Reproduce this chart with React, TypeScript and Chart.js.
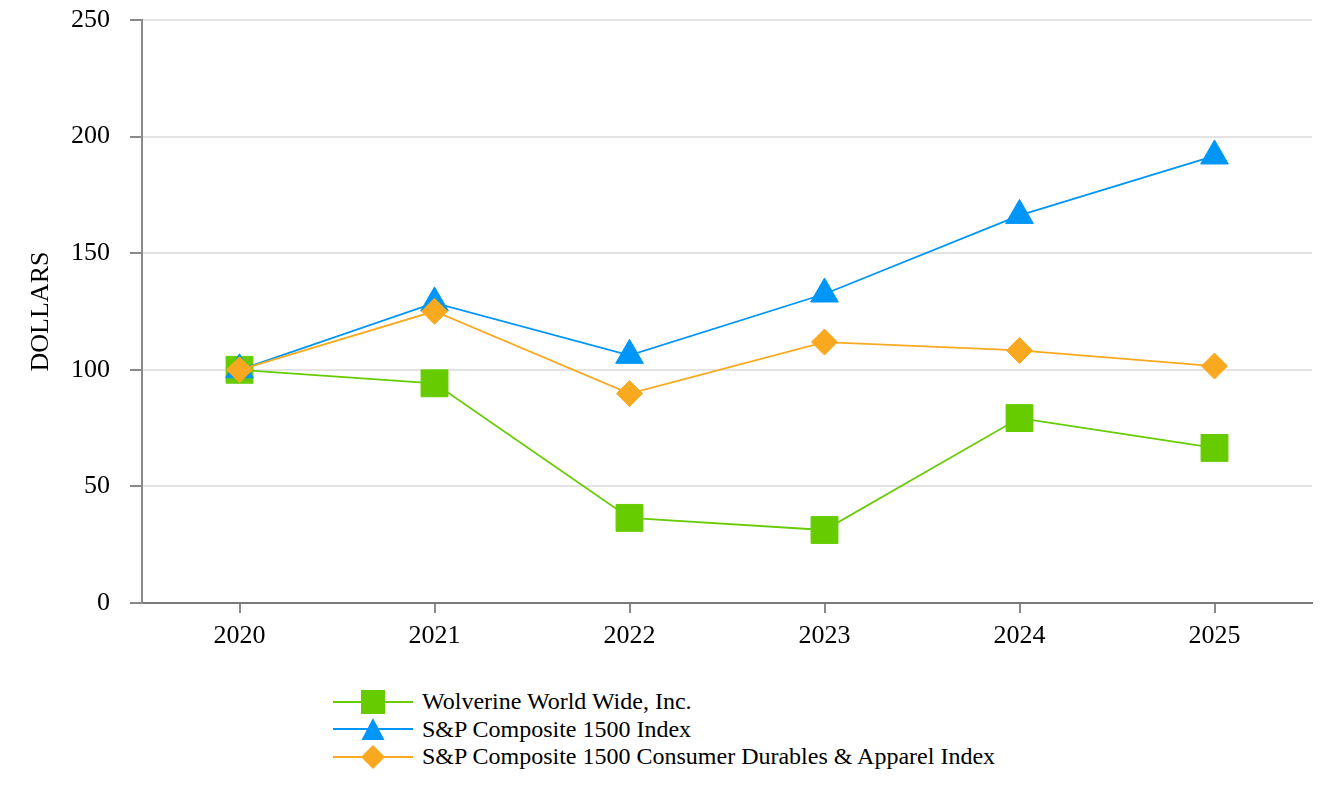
import React, { useEffect, useRef } from "react";
import { Chart, registerables } from "chart.js";

Chart.register(...registerables);

const years = ["2020", "2021", "2022", "2023", "2024", "2025"];
const wolverine = [100, 94.2, 36.5, 31.3, 79.3, 66.5];
const sp1500 = [100, 128.7, 106.2, 132.5, 166.2, 191.7];
const durables = [100, 125.1, 89.8, 111.9, 108.3, 101.6];
const seriesNames = [
  "Wolverine World Wide, Inc.",
  "S&P Composite 1500 Index",
  "S&P Composite 1500 Consumer Durables & Apparel Index",
];
const yTicks = [0, 50, 100, 150, 200, 250];

const GREEN = "#66cc00";
const BLUE = "#0096f8";
const ORANGE = "#f9a91f";
const FONT = "'Liberation Serif', 'Times New Roman', serif";

function LegendMarker({ kind, color }: { kind: string; color: string }) {
  return (
    <svg width={80} height={28} style={{ display: "block" }}>
      <line x1={0} y1={14} x2={80} y2={14} stroke={color} strokeWidth={2} />
      {kind === "square" && <rect x={28} y={2} width={24} height={24} fill={color} />}
      {kind === "triangle" && <polygon points="40,3 28.5,25 51.5,25" fill={color} />}
      {kind === "diamond" && <polygon points="40,2 52,14 40,26 28,14" fill={color} />}
    </svg>
  );
}

export default function App() {
  const ref = useRef<HTMLCanvasElement | null>(null);

  useEffect(() => {
    if (!ref.current) return;
    const chart = new Chart(ref.current, {
      type: "line",
      data: {
        labels: years,
        datasets: [
          {
            label: seriesNames[0],
            data: wolverine,
            borderColor: GREEN,
            backgroundColor: GREEN,
            pointBackgroundColor: GREEN,
            pointBorderColor: GREEN,
            pointStyle: "rect",
            pointRadius: 19,
            pointBorderWidth: 1,
            borderWidth: 1.8,
            order: 2,
          },
          {
            label: seriesNames[1],
            data: sp1500,
            borderColor: BLUE,
            backgroundColor: BLUE,
            pointBackgroundColor: BLUE,
            pointBorderColor: BLUE,
            pointStyle: "triangle",
            pointRadius: 16,
            pointBorderWidth: 1,
            borderWidth: 1.8,
            order: 1,
          },
          {
            label: seriesNames[2],
            data: durables,
            borderColor: ORANGE,
            backgroundColor: ORANGE,
            pointBackgroundColor: ORANGE,
            pointBorderColor: ORANGE,
            pointStyle: "rectRot",
            pointRadius: 13,
            pointBorderWidth: 1,
            borderWidth: 1.8,
            order: 0,
          },
        ],
      },
      options: {
        animation: false,
        responsive: false,
        maintainAspectRatio: false,
        layout: { padding: { top: 19, right: 20, left: 0, bottom: 0 } },
        plugins: {
          legend: { display: false },
          tooltip: { enabled: false },
        },
        scales: {
          x: {
            type: "category",
            offset: true,
            grid: {
              offset: false,
              color: "rgba(0,0,0,0)",
              tickColor: "#8a8a8a",
              tickLength: 10,
              lineWidth: 2,
            },
            border: { display: true, color: "#7a7a7a", width: 2 },
            ticks: {
              color: "#000",
              font: { family: FONT, size: 26 },
              padding: 8,
            },
            afterFit: (s: any) => {
              s.height = 57;
              s.paddingLeft = 0;
              s.paddingRight = 0;
            },
          },
          y: {
            min: 0,
            max: 250,
            afterBuildTicks: (s: any) => {
              s.ticks = yTicks.map((v) => ({ value: v }));
            },
            grid: {
              color: "#e3e3e3",
              tickColor: "#8a8a8a",
              tickLength: 12,
              lineWidth: 2,
            },
            border: { display: true, color: "#8a8a8a", width: 2 },
            ticks: {
              color: "#000",
              font: { family: FONT, size: 26 },
              padding: 20,
            },
            title: {
              display: true,
              text: "DOLLARS",
              color: "#000",
              font: { family: FONT, size: 26 },
              padding: { top: 26, bottom: 0 },
            },
            afterFit: (s: any) => {
              s.width = 142;
              s.paddingTop = 0;
              s.paddingBottom = 0;
            },
          },
        },
      },
    });
    return () => chart.destroy();
  }, []);

  const kinds = ["square", "triangle", "diamond"];
  const colors = [GREEN, BLUE, ORANGE];

  return (
    <div
      style={{
        position: "absolute",
        left: 0,
        top: 0,
        width: 1332,
        height: 800,
        background: "#fff",
        overflow: "hidden",
      }}
    >
      <canvas ref={ref} width={1332} height={660} style={{ display: "block" }} />
      <div style={{ position: "absolute", left: 333, top: 688 }}>
        {seriesNames.map((name, i) => (
          <div
            key={name}
            style={{ display: "flex", alignItems: "center", height: 27.5 }}
          >
            <LegendMarker kind={kinds[i]} color={colors[i]} />
            <span
              style={{
                marginLeft: 9,
                fontFamily: FONT,
                fontSize: 24,
                color: "#000",
                whiteSpace: "nowrap",
                lineHeight: "27.5px",
              }}
            >
              {name}
            </span>
          </div>
        ))}
      </div>
    </div>
  );
}
